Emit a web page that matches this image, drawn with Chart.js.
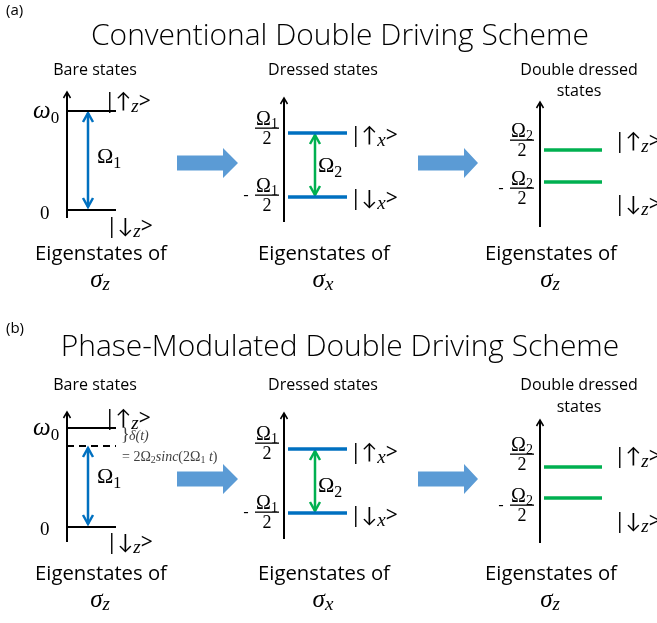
<!DOCTYPE html>
<html><head><meta charset="utf-8">
<script src="https://cdn.jsdelivr.net/npm/chart.js@4.4.1/dist/chart.umd.min.js"></script>
<style>html,body{margin:0;padding:0;background:#fff;}#wrap{width:657px;height:623px;}</style>
</head><body><div id="wrap"><canvas id="c" width="657" height="623"></canvas></div>
<script>
// ---- data (diagram units; y grows downward) ----
const rowLetters = ['(a)', '(b)'];
const schemeTitles = ['Conventional Double Driving Scheme', 'Phase-Modulated Double Driving Scheme'];
const stageTitles = [['Bare states'], ['Dressed states'], ['Double dressed', 'states']];
const eigenBases = ['z', 'x', 'z'];
const stageAxisX = [67, 284, 540];
// energy levels, one value per row (a), (b)
const bareUpper = [111, 428];      // ω0
const bareLower = [210, 527];      // 0
const bareShifted = [null, 446];   // ω0 − δ(t)
const dressedUpper = [133, 449];   // +Ω1/2
const dressedLower = [197, 513];   // −Ω1/2
const doubleUpper = [150, 467];    // +Ω2/2
const doubleLower = [182, 498];    // −Ω2/2
const axisTop = [[92, 98, 102], [412, 413, 420]];
const axisBottom = [[218, 222, 227], [542, 539, 543]];
const bigArrowY = [163, 479];

// ---- styles ----
const BLUE = '#0070C0', GREEN = '#00B050', BLOCK = '#5B9BD5';
const SANS = '"Open Sans", Lato, sans-serif';
const SERIF = '"Liberation Serif", "DejaVu Serif", serif';

function seg(pts, color, width, dash) {
  return { data: pts.map(p => ({x: p[0], y: p[1]})), borderColor: color, borderWidth: width,
    borderDash: dash || [], showLine: true, pointRadius: 0, fill: false, clip: false, borderCapStyle: 'butt' };
}
function vHead(x, y, dir, half, len, color, width) {
  return seg([[x - half, y + dir * len], [x, y], [x + half, y + dir * len]], color, width);
}
const datasets = [];
for (let r = 0; r < 2; r++) {
  for (let s = 0; s < 3; s++) {
    const x = stageAxisX[s];
    datasets.push(seg([[x, axisBottom[r][s]], [x, axisTop[r][s]]], '#000', 2));
    datasets.push(vHead(x, axisTop[r][s], 1, 3.5, 6, '#000', 1.5));
  }
  datasets.push(seg([[67, bareUpper[r]], [116, bareUpper[r]]], '#000', 2));
  datasets.push(seg([[67, bareLower[r]], [116, bareLower[r]]], '#000', 2));
  if (bareShifted[r] !== null) datasets.push(seg([[67, bareShifted[r]], [116, bareShifted[r]]], '#000', 2, [7, 5]));
  datasets.push(seg([[288, dressedUpper[r]], [347, dressedUpper[r]]], BLUE, 3.5));
  datasets.push(seg([[288, dressedLower[r]], [347, dressedLower[r]]], BLUE, 3.5));
  datasets.push(seg([[544, doubleUpper[r]], [602, doubleUpper[r]]], GREEN, 3.5));
  datasets.push(seg([[544, doubleLower[r]], [602, doubleLower[r]]], GREEN, 3.5));
  // Ω1 arrow
  const t1 = (bareShifted[r] !== null ? bareShifted[r] : bareUpper[r]) + 2, b1 = bareLower[r] - 3;
  datasets.push(seg([[88, t1], [88, b1]], BLUE, 2.5));
  datasets.push(vHead(88, t1, 1, 5, 9, BLUE, 2.5));
  datasets.push(vHead(88, b1, -1, 5, 9, BLUE, 2.5));
  // Ω2 arrow
  const t2 = dressedUpper[r] + 2, b2 = dressedLower[r] - 2;
  datasets.push(seg([[315, t2], [315, b2]], GREEN, 2.5));
  datasets.push(vHead(315, t2, 1, 5, 9, GREEN, 2.5));
  datasets.push(vHead(315, b2, -1, 5, 9, GREEN, 2.5));
  // block arrows
  [[177, 223, 238], [418, 464, 478]].forEach(a => {
    const c = bigArrowY[r];
    const d = seg([[a[0], c - 7.5], [a[1], c - 7.5], [a[1], c - 15], [a[2], c], [a[1], c + 15], [a[1], c + 7.5], [a[0], c + 7.5], [a[0], c - 7.5]], BLOCK, 0);
    d.fill = 'shape'; d.backgroundColor = BLOCK;
    datasets.push(d);
  });
}

// ---- text plugin ----
function drawRuns(ctx, x, y, runs, align) {
  let w = 0;
  runs.forEach(r => { ctx.font = r.f; r.w = ctx.measureText(r.t).width; w += r.w; });
  let cx = align === 'center' ? x - w / 2 : (align === 'right' ? x - w : x);
  runs.forEach(r => { ctx.font = r.f; ctx.fillStyle = r.c || '#000'; ctx.fillText(r.t, cx, y + (r.dy || 0)); cx += r.w; });
}
function fitSize(ctx, text, weight, family, target) {
  ctx.font = weight + ' 30px ' + family;
  return 30 * target / ctx.measureText(text).width;
}
const rowText = [
  {letterY: 15, titleY: 45, stageY: 75, stage2Y: 96, eigY: 260, sigY: 287,
   omega0Y: 118, zeroY: 219, om1Y: 163, ketUpB: 108, ketDnB: 233,
   fracD: [128, 195], om2Y: 172, ketD: [142, 205], fracDD: [140, 188], ketDD: [148, 211]},
  {letterY: 333, titleY: 356, stageY: 390, stage2Y: 412, eigY: 580, sigY: 607,
   omega0Y: 435, zeroY: 535, om1Y: 483, ketUpB: 425, ketDnB: 549,
   fracD: [443, 512], om2Y: 492, ketD: [459, 522], fracDD: [454, 505], ketDD: [463, 528]}
];
function ket(ctx, x, y, arrow, sub) {
  drawRuns(ctx, x, y, [
    {t: '|' + arrow, f: '21px ' + SANS},
    {t: sub, f: 'italic 19px ' + SERIF, dy: 4},
    {t: '>', f: '21px ' + SANS}], 'left');
}
function frac(ctx, cx, barY, sub, neg) {
  drawRuns(ctx, cx, barY - 3, [{t: 'Ω', f: '20px ' + SERIF}, {t: sub, f: '14px ' + SERIF, dy: 3}], 'center');
  ctx.fillStyle = '#000';
  ctx.fillRect(cx - 12, barY - 0.5, 24, 1.3);
  drawRuns(ctx, cx, barY + 16, [{t: '2', f: '18px ' + SERIF}], 'center');
  if (neg) drawRuns(ctx, cx - 21, barY + 5, [{t: '-', f: '17px ' + SANS}], 'center');
}
const textPlugin = {
  id: 'diagramText',
  afterDatasetsDraw(chart) {
    const ctx = chart.ctx;
    ctx.save();
    ctx.textBaseline = 'alphabetic'; ctx.textAlign = 'left';
    const titleSize = fitSize(ctx, schemeTitles[0], '300', SANS, 498);
    const stageSize = fitSize(ctx, 'Dressed states', '400', SANS, 110);
    const eigSize = fitSize(ctx, 'Eigenstates of', '400', SANS, 132);
    const stageCX = [95, 323, 579], eigCX = [101, 324, 551];
    for (let r = 0; r < 2; r++) {
      const T = rowText[r];
      drawRuns(ctx, 6, T.letterY, [{t: rowLetters[r], f: '15px ' + SANS}], 'left');
      drawRuns(ctx, 340, T.titleY, [{t: schemeTitles[r], f: '300 ' + titleSize + 'px ' + SANS}], 'center');
      for (let s = 0; s < 3; s++) {
        stageTitles[s].forEach((line, i) => {
          drawRuns(ctx, stageCX[s], i === 0 ? T.stageY : T.stage2Y, [{t: line, f: stageSize + 'px ' + SANS}], 'center');
        });
        drawRuns(ctx, eigCX[s], T.eigY, [{t: 'Eigenstates of', f: eigSize + 'px ' + SANS}], 'center');
        drawRuns(ctx, eigCX[s] - 1, T.sigY, [{t: 'σ', f: 'italic 25px ' + SERIF}, {t: eigenBases[s], f: 'italic 19px ' + SERIF, dy: 3}], 'center');
      }
      // bare
      drawRuns(ctx, 33, T.omega0Y, [{t: 'ω', f: 'italic 25px ' + SERIF}, {t: '0', f: '17px ' + SERIF, dy: 5}], 'left');
      drawRuns(ctx, 40, T.zeroY, [{t: '0', f: '19px ' + SERIF}], 'left');
      drawRuns(ctx, 97, T.om1Y, [{t: 'Ω', f: '22px ' + SERIF}, {t: '1', f: '16px ' + SERIF, dy: 5}], 'left');
      ket(ctx, 104, T.ketUpB, '↑', 'z');
      ket(ctx, 106, T.ketDnB, '↓', 'z');
      // dressed
      frac(ctx, 267, T.fracD[0], '1', false);
      frac(ctx, 267, T.fracD[1], '1', true);
      drawRuns(ctx, 318, T.om2Y, [{t: 'Ω', f: '22px ' + SERIF}, {t: '2', f: '16px ' + SERIF, dy: 5}], 'left');
      ket(ctx, 350, T.ketD[0], '↑', 'x');
      ket(ctx, 350, T.ketD[1], '↓', 'x');
      // double dressed
      frac(ctx, 522, T.fracDD[0], '2', false);
      frac(ctx, 522, T.fracDD[1], '2', true);
      ket(ctx, 614, T.ketDD[0], '↑', 'z');
      ket(ctx, 614, T.ketDD[1], '↓', 'z');
    }
    // detuning annotation, row (b)
    const G = '#404040';
    drawRuns(ctx, 121, 440, [{t: '}', f: '18px ' + SERIF, c: G}], 'left');
    drawRuns(ctx, 129, 440, [{t: 'δ(t)', f: 'italic 14px ' + SERIF, c: G}], 'left');
    drawRuns(ctx, 122, 461, [
      {t: '= 2Ω', f: '14px ' + SERIF, c: G}, {t: '2', f: '10px ' + SERIF, c: G, dy: 2},
      {t: 'sinc', f: 'italic 14px ' + SERIF, c: G}, {t: '(2Ω', f: '14px ' + SERIF, c: G},
      {t: '1', f: '10px ' + SERIF, c: G, dy: 2}, {t: ' t', f: 'italic 14px ' + SERIF, c: G},
      {t: ')', f: '14px ' + SERIF, c: G}], 'left');
    ctx.restore();
  }
};

new Chart(document.getElementById('c'), {
  type: 'scatter',
  data: { datasets },
  options: {
    responsive: false, animation: false, devicePixelRatio: 1,
    layout: { padding: 0 },
    elements: { line: { tension: 0 } },
    plugins: { legend: { display: false }, tooltip: { enabled: false } },
    scales: {
      x: { type: 'linear', min: 0, max: 657, display: false },
      y: { type: 'linear', min: 0, max: 623, reverse: true, display: false }
    }
  },
  plugins: [textPlugin]
});
</script>
</body></html>
